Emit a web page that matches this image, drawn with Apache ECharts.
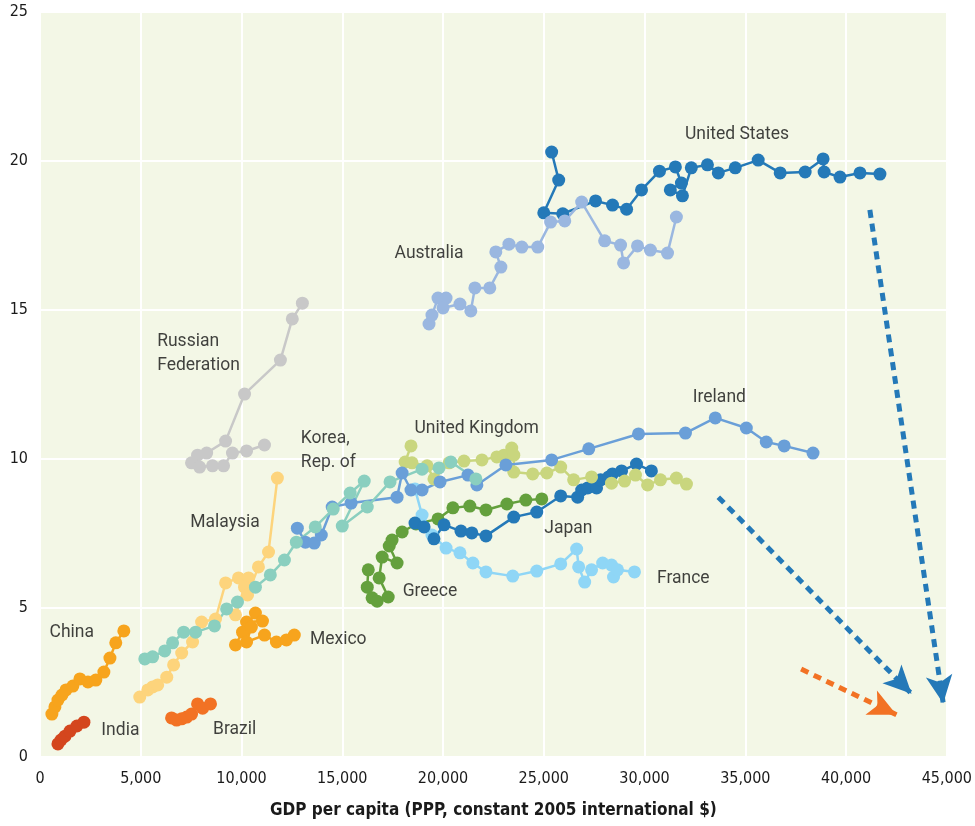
<!DOCTYPE html>
<html>
<head>
<meta charset="utf-8">
<script src="https://cdn.jsdelivr.net/npm/echarts@6/dist/echarts.min.js"></script>
<style>
html,body{margin:0;padding:0;background:#fff;}
#chart{width:975px;height:826px;}
</style>
</head>
<body>
<div id="chart"></div>
<script>
// Axis ticks
const xTicks = [0, 5000, 10000, 15000, 20000, 25000, 30000, 35000, 40000, 45000];
const yTicks = [0, 5, 10, 15, 20, 25];
const xTitle = 'GDP per capita (PPP, constant 2005 international $)';

// Country series: [GDP per capita, CO2 per capita]
const unitedStates = [[25390,20.3],[25740,19.36],[25000,18.26],[25940,18.23],[27570,18.66],[28410,18.52],[29110,18.38],[29850,19.03],[30740,19.66],[31530,19.8],[31830,19.26],[31280,19.03],[31880,18.83],[32320,19.77],[33120,19.87],[33660,19.6],[34500,19.77],[35640,20.03],[36730,19.6],[37970,19.63],[38860,20.07],[38910,19.63],[39700,19.46],[40690,19.6],[41680,19.56]];
const australia = [[19305,14.53],[19450,14.83],[19750,15.4],[20150,15.4],[20000,15.07],[20840,15.2],[21380,14.97],[21580,15.74],[22320,15.74],[22870,16.44],[22620,16.95],[23270,17.21],[23910,17.11],[24700,17.11],[25340,17.95],[26040,17.99],[26880,18.62],[28020,17.32],[28810,17.18],[28960,16.58],[29650,17.15],[30290,17.01],[31140,16.91],[31580,18.12]];
const russia = [[13020,15.23],[12520,14.7],[11930,13.32],[10150,12.18],[9210,10.6],[8270,10.2],[7820,10.13],[7520,9.87],[7920,9.73],[8560,9.77],[9110,9.77],[9550,10.2],[10250,10.27],[11140,10.47]];
const malaysia = [[4950,2.01],[5350,2.25],[5590,2.35],[5840,2.42],[6290,2.68],[6630,3.09],[7030,3.49],[7570,3.86],[8020,4.53],[8710,4.63],[9210,5.84],[9850,6.01],[10350,6.01],[9700,4.77],[10150,5.7],[10300,5.44],[10840,6.38],[11340,6.88],[11780,9.36]];
const korea = [[5200,3.29],[5590,3.36],[6190,3.56],[6580,3.83],[7130,4.19],[7720,4.19],[8660,4.4],[9260,4.97],[9800,5.2],[10690,5.7],[11430,6.11],[12130,6.61],[12720,7.21],[13660,7.72],[14550,8.32],[15390,8.86],[16090,9.26],[15000,7.75],[16240,8.39],[17370,9.23],[18960,9.66],[19800,9.7],[20390,9.9],[21630,9.33]];
const ireland = [[12770,7.68],[13170,7.21],[13610,7.18],[13960,7.45],[14500,8.39],[15440,8.52],[17720,8.72],[17970,9.53],[18410,8.96],[18960,8.96],[19850,9.23],[21240,9.46],[21680,9.13],[23120,9.8],[25390,9.97],[27230,10.34],[29700,10.84],[32030,10.87],[33510,11.38],[35050,11.04],[36040,10.57],[36930,10.44],[38360,10.2]];
const unitedKingdom = [[18410,10.44],[18120,9.9],[18460,9.87],[19210,9.77],[19550,9.33],[20300,9.87],[21040,9.93],[21930,9.97],[22670,10.07],[23020,10.13],[23410,10.37],[23510,10.13],[23510,9.56],[24450,9.5],[25150,9.53],[25840,9.73],[26480,9.3],[27370,9.4],[28360,9.19],[29010,9.26],[29550,9.46],[30150,9.13],[30790,9.3],[31580,9.36],[32080,9.16]];
const japan = [[18610,7.85],[19060,7.72],[19550,7.32],[20050,7.79],[20890,7.58],[21430,7.52],[22130,7.42],[23510,8.05],[24650,8.22],[25840,8.76],[26680,8.72],[26880,8.96],[27180,9.03],[27620,9.03],[27820,9.3],[28220,9.4],[28410,9.5],[28860,9.6],[29600,9.83],[30340,9.6]];
const greece = [[16290,6.28],[16240,5.7],[16480,5.34],[16730,5.23],[17280,5.37],[16830,6.01],[16980,6.71],[17720,6.51],[17330,7.08],[17470,7.28],[17970,7.55],[18660,7.82],[19750,7.99],[20490,8.36],[21330,8.42],[22130,8.29],[23170,8.49],[24110,8.62],[24900,8.66]];
const france = [[18610,8.99],[18960,8.12],[19450,7.45],[20150,7.01],[20840,6.85],[21480,6.51],[22130,6.21],[23460,6.07],[24650,6.24],[25840,6.48],[26630,6.98],[26730,6.38],[27030,5.87],[27370,6.28],[27920,6.51],[28360,6.44],[28460,6.04],[28660,6.28],[29500,6.21]];
const mexico = [[9700,3.76],[10050,4.19],[10690,4.83],[11040,4.56],[10250,4.53],[10490,4.36],[10250,3.86],[11140,4.09],[11730,3.86],[12230,3.93],[12620,4.09]];
const china = [[590,1.44],[740,1.68],[890,1.91],[1090,2.08],[1290,2.25],[1630,2.38],[1980,2.62],[2380,2.52],[2770,2.58],[3170,2.85],[3470,3.32],[3760,3.83],[4160,4.23]];
const india = [[890,0.44],[1040,0.57],[1240,0.7],[1490,0.87],[1830,1.04],[2180,1.17]];
const brazil = [[6530,1.31],[6780,1.24],[7030,1.28],[7280,1.34],[7520,1.44],[7820,1.78],[8070,1.64],[8460,1.78]];

// Country name labels: [text, gdp, co2]
const countryLabels = [
  ['United States', 31980, 20.9],
  ['Australia', 17570, 16.9],
  ['Russian\nFederation', 5790, 13.52],
  ['Korea,\nRep. of', 12920, 10.28],
  ['United Kingdom', 18560, 11.03],
  ['Ireland', 32370, 12.07],
  ['Malaysia', 7430, 7.85],
  ['Japan', 25000, 7.68],
  ['Greece', 17970, 5.56],
  ['France', 30590, 6.0],
  ['Mexico', 13370, 3.95],
  ['China', 450, 4.19],
  ['India', 3020, 0.9],
  ['Brazil', 8560, 0.93]
];

// Annotation arrows: [fromGdp, fromCo2, toGdp, toCo2]
const blueArrows = [[41180, 18.36, 44820, 1.8], [33660, 8.72, 43250, 2.12]];
const orangeArrows = [[37770, 2.95, 42500, 1.42]];

const colors = {
  us: '#2479b8', au: '#9ab7e0', ru: '#c8c8c8', my: '#fdd47c', kr: '#8acfbf',
  ie: '#6a9fd8', uk: '#c9d67e', jp: '#2479b8', gr: '#64a03d', fr: '#8fd6f6',
  mx: '#f7a41d', cn: '#f7a41d', in: '#d4461e', br: '#f27224'
};

function lineSeries(name, data, color) {
  return {
    name: name, type: 'line', data: data,
    symbol: 'circle', symbolSize: 13, showSymbol: true,
    lineStyle: {color: color, width: 2.5},
    itemStyle: {color: color},
    emphasis: {disabled: true},
    z: 3
  };
}

const axisFont = "'Liberation Sans Narrow', 'DejaVu Sans Condensed', 'Roboto', sans-serif";
const labelFont = "'Roboto', 'Liberation Sans', sans-serif";

function arrowLine(arr) {
  return arr.map(a => [
    {coord: [a[0], a[1]]},
    {coord: [a[2], a[3]]}
  ]);
}

const chart = echarts.init(document.getElementById('chart'), null, {renderer: 'canvas'});
chart.setOption({
  animation: false,
  backgroundColor: '#ffffff',
  grid: {left: 40, right: 25, top: 12, bottom: 69, show: true, backgroundColor: '#f3f7e6', borderWidth: 0},
  xAxis: {
    type: 'value', min: xTicks[0], max: xTicks[xTicks.length - 1], interval: 5000,
    axisLine: {show: false}, axisTick: {show: false},
    splitLine: {show: true, lineStyle: {color: '#ffffff', width: 2}},
    axisLabel: {
      color: '#1a1a1a', fontSize: 16, fontFamily: axisFont, margin: 14,
      formatter: v => v.toLocaleString('en-US')
    },
    name: xTitle, nameLocation: 'middle', nameGap: 45,
    nameTextStyle: {color: '#1a1a1a', fontSize: 17, fontWeight: 'bold', fontFamily: axisFont}
  },
  yAxis: {
    type: 'value', min: yTicks[0], max: yTicks[yTicks.length - 1], interval: 5,
    axisLine: {show: false}, axisTick: {show: false},
    splitLine: {show: true, lineStyle: {color: '#ffffff', width: 2}},
    axisLabel: {color: '#1a1a1a', fontSize: 16, fontFamily: axisFont, margin: 12}
  },
  series: [
    lineSeries('Russian Federation', russia, colors.ru),
    lineSeries('Malaysia', malaysia, colors.my),
    lineSeries('Mexico', mexico, colors.mx),
    lineSeries('China', china, colors.cn),
    lineSeries('India', india, colors.in),
    lineSeries('Brazil', brazil, colors.br),
    lineSeries('Greece', greece, colors.gr),
    lineSeries('France', france, colors.fr),
    lineSeries('Japan', japan, colors.jp),
    lineSeries('United Kingdom', unitedKingdom, colors.uk),
    lineSeries('Ireland', ireland, colors.ie),
    lineSeries('Korea, Rep. of', korea, colors.kr),
    lineSeries('United States', unitedStates, colors.us),
    lineSeries('Australia', australia, colors.au),
    {
      name: 'labels', type: 'scatter', symbolSize: 1,
      itemStyle: {color: 'rgba(0,0,0,0)'},
      data: countryLabels.map(l => ({value: [l[1], l[2]], name: l[0]})),
      label: {
        show: true, position: 'right', distance: 0,
        formatter: p => p.name,
        color: '#111111', fontSize: 17.5, fontFamily: labelFont, lineHeight: 24
      },
      emphasis: {disabled: true}, z: 5
    },
    {
      name: 'arrowsBlue', type: 'line', data: [],
      markLine: {
        silent: true, symbol: ['none', 'arrow'], symbolSize: [20, 28],
        lineStyle: {color: '#2479b8', width: 5, type: [8, 6], opacity: 1},
        label: {show: false},
        data: arrowLine(blueArrows)
      }
    },
    {
      name: 'arrowsOrange', type: 'line', data: [],
      markLine: {
        silent: true, symbol: ['none', 'arrow'], symbolSize: [20, 28],
        lineStyle: {color: '#f27224', width: 5, type: [8, 6], opacity: 1},
        label: {show: false},
        data: arrowLine(orangeArrows)
      }
    }
  ]
});
</script>
</body>
</html>
